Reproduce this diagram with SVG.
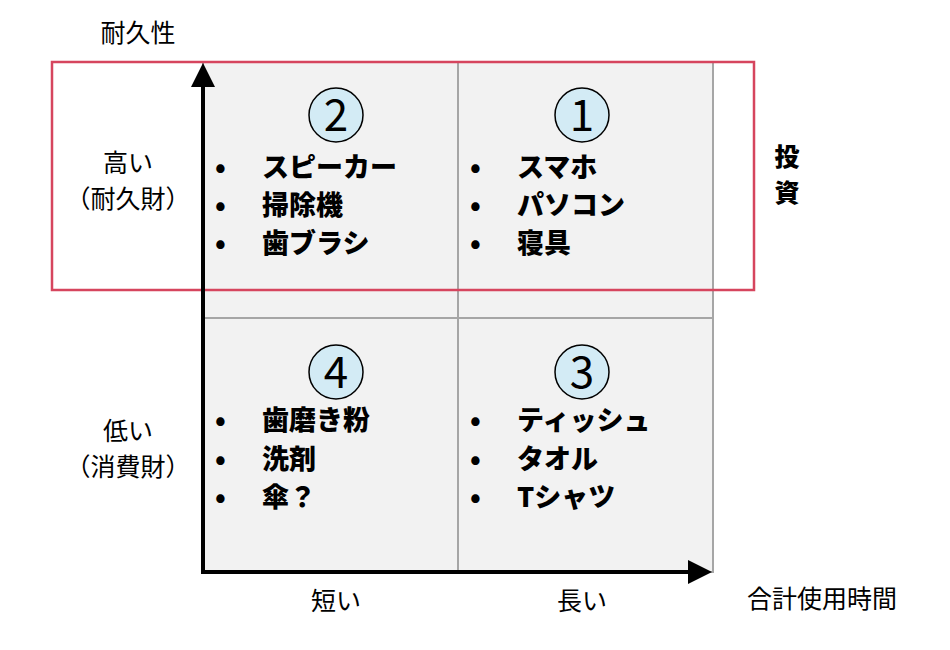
<svg xmlns="http://www.w3.org/2000/svg" width="950" height="650" viewBox="0 0 950 650">
<defs>
<style>
text{font-family:"Noto Sans CJK JP","Liberation Sans",sans-serif;fill:#000}
.q{fill:#f2f2f2;stroke:#a6a6a6;stroke-width:2}
.c{fill:#d3ebf5;stroke:#000;stroke-width:1.5}
.n{font-size:44px;text-anchor:middle}
.b{font-size:27px;font-weight:900}
.v{font-size:25px;font-weight:900}
.l{font-size:25px}
</style>
<marker id="ah" markerWidth="6" markerHeight="6" refX="3" refY="3" orient="auto" markerUnits="strokeWidth"><path d="M0,0L6,3L0,6z" fill="#000"/></marker>
</defs>
<g id="quadrants">
<rect class="q" x="203" y="62" width="255" height="256"/>
<rect class="q" x="458" y="62" width="255" height="256"/>
<rect class="q" x="203" y="318" width="255" height="254"/>
<rect class="q" x="458" y="318" width="255" height="254"/>
</g>
<g id="q2"><circle class="c" cx="336" cy="115" r="27"/><text class="n" x="336" y="131">2</text>
<text class="b" x="215" y="177">•</text><text class="b" x="262" y="177">スピーカー</text>
<text class="b" x="215" y="215">•</text><text class="b" x="262" y="215">掃除機</text>
<text class="b" x="215" y="253">•</text><text class="b" x="262" y="253">歯ブラシ</text></g>
<g id="q1"><circle class="c" cx="582" cy="115" r="27"/><text class="n" x="582" y="131">1</text>
<text class="b" x="470" y="177">•</text><text class="b" x="517" y="177">スマホ</text>
<text class="b" x="470" y="215">•</text><text class="b" x="517" y="215">パソコン</text>
<text class="b" x="470" y="253">•</text><text class="b" x="517" y="253">寝具</text></g>
<g id="q4"><circle class="c" cx="336" cy="372" r="27"/><text class="n" x="336" y="388">4</text>
<text class="b" x="215" y="430">•</text><text class="b" x="262" y="430">歯磨き粉</text>
<text class="b" x="215" y="469">•</text><text class="b" x="262" y="469">洗剤</text>
<text class="b" x="215" y="507">•</text><text class="b" x="262" y="507">傘？</text></g>
<g id="q3"><circle class="c" cx="582" cy="372" r="27"/><text class="n" x="582" y="388">3</text>
<text class="b" x="470" y="430">•</text><text class="b" x="517" y="430">ティッシュ</text>
<text class="b" x="470" y="469">•</text><text class="b" x="517" y="469">タオル</text>
<text class="b" x="470" y="507">•</text><text class="b" x="517" y="507">Tシャツ</text></g>
<g id="invest"><rect x="52" y="62" width="702" height="228" fill="none" stroke="#d6455e" stroke-width="2.5"/>
<text class="v" x="787" y="166" text-anchor="middle">投</text><text class="v" x="787" y="202" text-anchor="middle">資</text></g>
<g id="connectors">
<line x1="203" y1="574" x2="203" y2="75" stroke="#000" stroke-width="4" marker-end="url(#ah)"/>
<line x1="201" y1="572" x2="700" y2="572" stroke="#000" stroke-width="4" marker-end="url(#ah)"/>
</g>
<g id="labels">
<text class="l" x="138" y="42" text-anchor="middle">耐久性</text>
<text class="l" x="128" y="172" text-anchor="middle">高い</text>
<text class="l" x="128" y="208" text-anchor="middle">（耐久財）</text>
<text class="l" x="128" y="440" text-anchor="middle">低い</text>
<text class="l" x="128" y="476" text-anchor="middle">（消費財）</text>
<text class="l" x="336" y="610" text-anchor="middle">短い</text>
<text class="l" x="582" y="610" text-anchor="middle">長い</text>
<text class="l" x="822" y="608" text-anchor="middle">合計使用時間</text>
</g>
</svg>
